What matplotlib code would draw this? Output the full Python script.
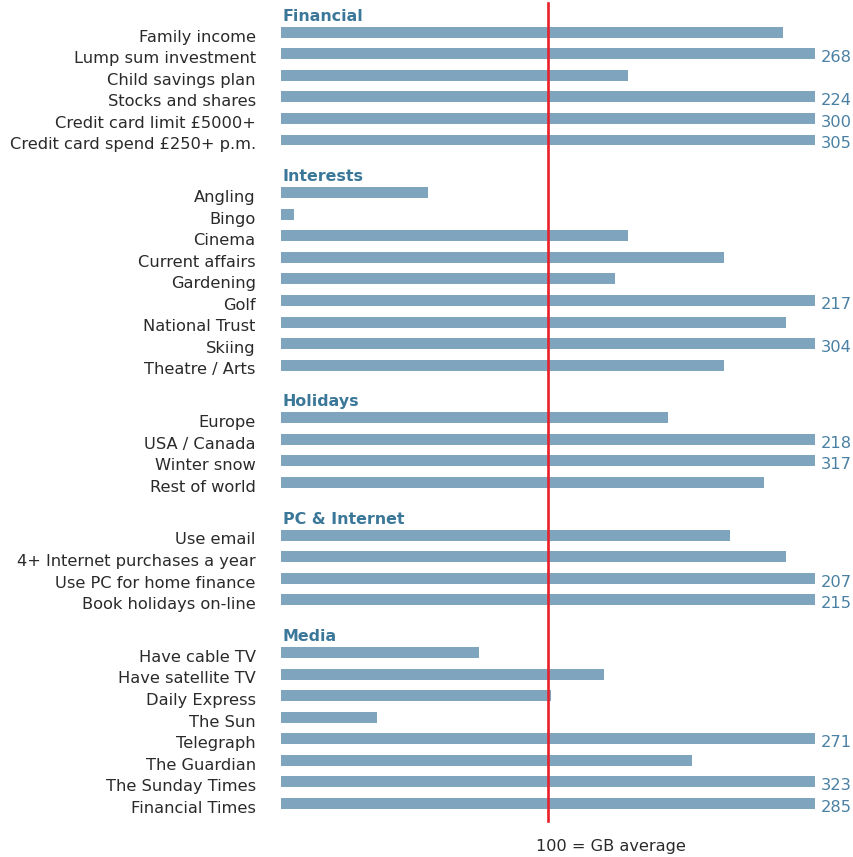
import matplotlib
matplotlib.use("Agg")
import matplotlib.pyplot as plt

# --- data (index, 100 = GB average) ---
groups = ["Financial", "Interests", "Holidays", "PC & Internet", "Media"]

financial_labels = ["Family income", "Lump sum investment", "Child savings plan",
                    "Stocks and shares", "Credit card limit £5000+",
                    "Credit card spend £250+ p.m."]
financial_values = [188, 268, 130, 224, 300, 305]

interests_labels = ["Angling", "Bingo", "Cinema", "Current affairs", "Gardening",
                    "Golf", "National Trust", "Skiing", "Theatre / Arts"]
interests_values = [55, 5, 130, 166, 125, 217, 189, 304, 166]

holidays_labels = ["Europe", "USA / Canada", "Winter snow", "Rest of world"]
holidays_values = [145, 218, 317, 181]

pc_labels = ["Use email", "4+ Internet purchases a year",
             "Use PC for home finance", "Book holidays on-line"]
pc_values = [168, 189, 207, 215]

media_labels = ["Have cable TV", "Have satellite TV", "Daily Express", "The Sun",
                "Telegraph", "The Guardian", "The Sunday Times", "Financial Times"]
media_values = [74, 121, 101, 36, 271, 154, 323, 285]

group_labels = [financial_labels, interests_labels, holidays_labels, pc_labels, media_labels]
group_values = [financial_values, interests_values, holidays_values, pc_values, media_values]

AVERAGE = 100
XMAX = 200

# --- style ---
BAR = "#7fa4be"
HEAD = "#3b7799"
VAL = "#4a80a3"
RED = "#e8202a"
TXT = "#2a2a2a"

W, H = 854, 857
fig = plt.figure(figsize=(W / 100, H / 100), dpi=100)

row_px = 21.54      # pixel spacing of rows
first_px = 32.3     # pixel centre of first bar
gap = 2.45          # rows between last bar of a group and first of next

ax = fig.add_axes([281 / W, 0, (815 - 281) / W, 1])
ax.set_xlim(0, XMAX)
ax.set_ylim((H - first_px) / row_px, -first_px / row_px)
ax.axis("off")

y = 0.0
for g, (name, labels, values) in enumerate(zip(groups, group_labels, group_values)):
    if g > 0:
        y += gap - 1
    ax.text(0.6, y - 0.74, name, color=HEAD, fontsize=11.4, fontweight="bold",
            ha="left", va="center")
    for lab, v in zip(labels, values):
        ax.barh(y, min(v, XMAX), height=0.51, color=BAR, left=0)
        ax.text(-9.5, y + 0.22, lab, color=TXT, fontsize=11.7, ha="right", va="center")
        if v > XMAX:
            ax.text(XMAX + 2, y + 0.18, str(v), color=VAL, fontsize=11.7,
                    ha="left", va="center", clip_on=False)
        y += 1

# red average line
ax.plot([AVERAGE, AVERAGE], [-1.36, 36.6], color=RED, linewidth=1.9,
        clip_on=False, zorder=5)

fig.text(611 / W, 1 - 847 / H, "100 = GB average", color=TXT, fontsize=11.6,
         ha="center", va="center")

fig.savefig("out.png", dpi=100)
